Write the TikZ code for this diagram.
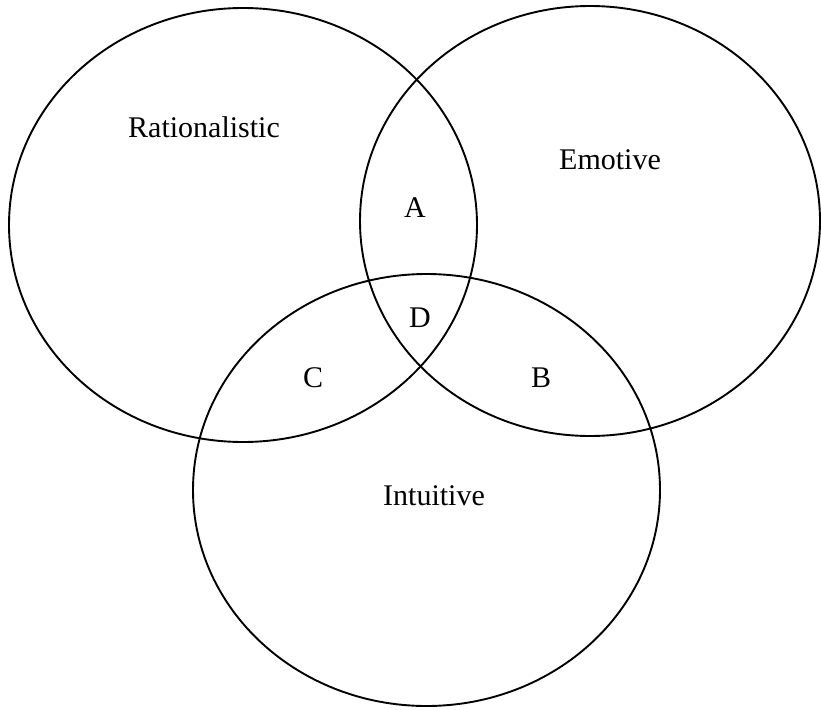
\documentclass[tikz,border=0pt]{standalone}
\usepackage{fontspec}
\setmainfont{Liberation Serif}
\begin{document}
\begin{tikzpicture}[x=1pt,y=-1pt,
  setshape/.style={draw=black,line width=1.9pt},
  lbl/.style={font=\fontsize{30}{35}\selectfont,inner sep=0pt}]
\useasboundingbox (0,0) rectangle (821,709);
\draw[setshape] (243,225) ellipse [x radius=234, y radius=217];
\draw[setshape] (590,221) ellipse [x radius=230, y radius=215];
\draw[setshape] (426.5,490) ellipse [x radius=233.5, y radius=216];
\node[lbl] (rat) at (204,127) {Rationalistic};
\node[lbl] (emo) at (610,160) {Emotive};
\node[lbl] (a) at (415,208) {A};
\node[lbl] (d) at (420,318) {D};
\node[lbl] (c) at (313,378) {C};
\node[lbl] (b) at (541,378) {B};
\node[lbl] (int) at (434,496) {Intuitive};
\end{tikzpicture}
\end{document}
